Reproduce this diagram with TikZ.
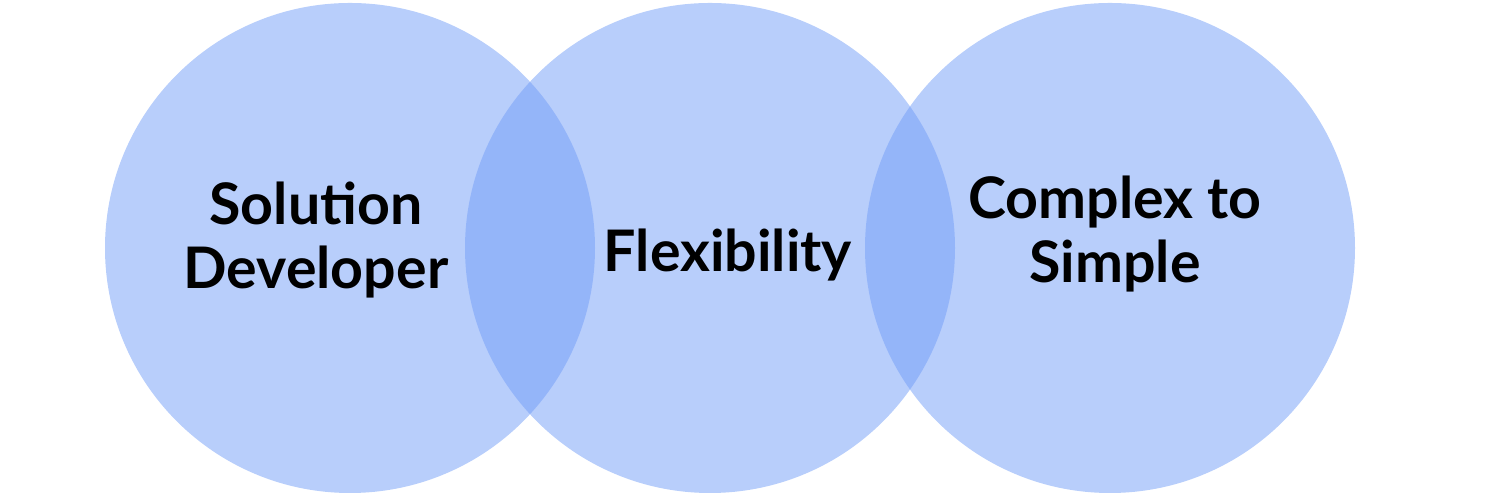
\documentclass[tikz,border=0pt]{standalone}
\usepackage{fontspec}
\setmainfont{Lato}
\usepackage{xcolor}
\usetikzlibrary{positioning}
\definecolor{vennblue}{RGB}{115,158,247}

\begin{document}
\begin{tikzpicture}[
    venn/.style={circle, fill=vennblue, fill opacity=0.51, minimum size=4.9cm, inner sep=0pt},
    label/.style={text opacity=1, align=center, font=\fontsize{16.3}{18}\selectfont\bfseries}
]
    % Frame
    \useasboundingbox (0,0) rectangle (15,5);

    % Circles
    \node[venn] (dev) at (3.50,2.52) {};
    \node[venn] (flex) at (7.10,2.52) {};
    \node[venn] (simple) at (11.10,2.52) {};

    % Labels
    \node[label] (devtext) at (3.16,2.60) {Solution\\Developer};
    \node[label] (flextext) at (7.28,2.45) {Flexibility};
    \node[label] (simpletext) at (11.15,2.66) {Complex to\\Simple};
\end{tikzpicture}
\end{document}
